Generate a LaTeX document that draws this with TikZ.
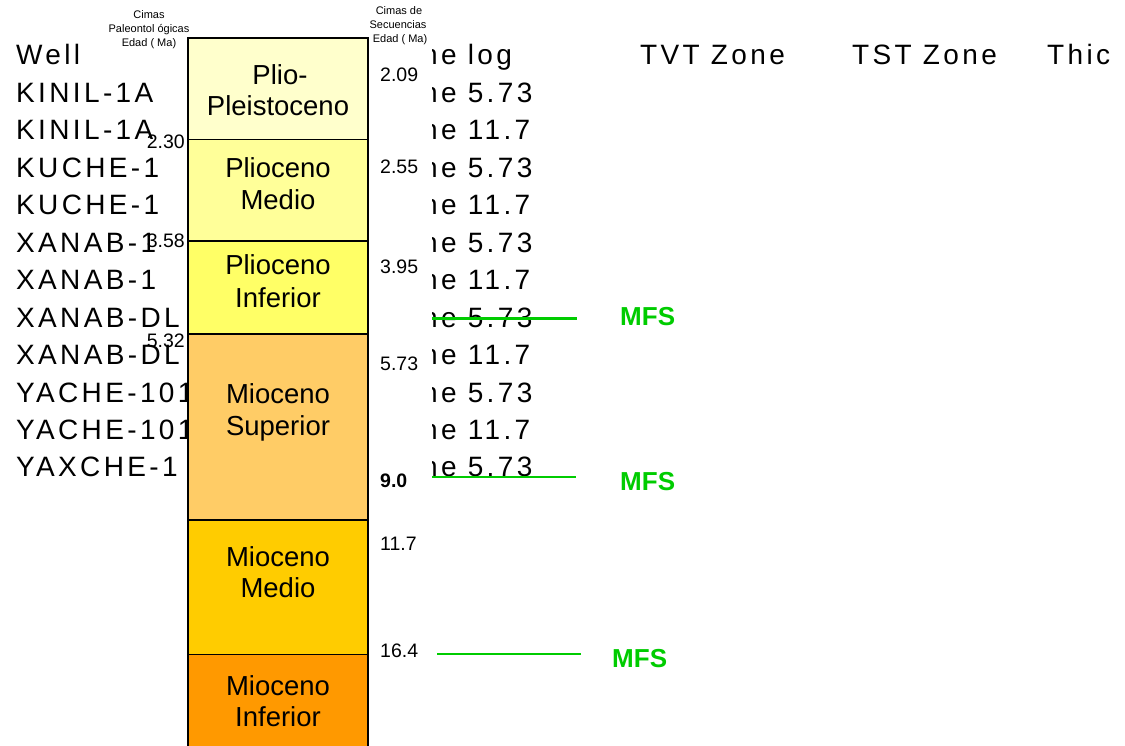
\documentclass[tikz,border=0pt]{standalone}
\usepackage{fontspec}
\setmainfont{Liberation Sans}
\newfontfamily\tabfont[LetterSpace=12]{Liberation Sans}
\definecolor{cpp}{HTML}{FFFFCC}
\definecolor{cpm}{HTML}{FFFF99}
\definecolor{cpi}{HTML}{FFFF66}
\definecolor{cms}{HTML}{FFCC66}
\definecolor{cmm}{HTML}{FFCC00}
\definecolor{cmi}{HTML}{FF9900}
\definecolor{mfsgreen}{HTML}{00CC00}
\begin{document}
\begin{tikzpicture}[x=1pt,y=-1pt,
  tab/.style={anchor=base west, inner sep=0pt, font=\tabfont\fontsize{28}{28}\selectfont},
  era/.style={anchor=base, inner sep=0pt, font=\fontsize{27.5}{27.5}\selectfont},
  agr/.style={anchor=base west, inner sep=0pt, font=\fontsize{19.5}{19.5}\selectfont},
  agl/.style={anchor=base east, inner sep=0pt, font=\fontsize{19.5}{19.5}\selectfont},
  hdr/.style={anchor=base, inner sep=0pt, font=\fontsize{11}{11}\selectfont},
  mfs/.style={anchor=base west, inner sep=0pt, text=mfsgreen, font=\bfseries\fontsize{26}{26}\selectfont},
  mfsline/.style={draw=mfsgreen, line width=2.5pt},
  unitline/.style={draw=black, line width=1.2pt},
  outline/.style={draw=black, line width=2pt}
]
\useasboundingbox (0,0) rectangle (1125,746);
\clip (0,0) rectangle (1125,746);
\fill[white] (0,0) rectangle (1125,746);
% background table text
\foreach \i/\t in {0/Well,1/KINIL-1A,2/KINIL-1A,3/KUCHE-1,4/KUCHE-1,5/XANAB-1,6/XANAB-1,7/XANAB-DL,8/XANAB-DL,9/YACHE-101,10/YACHE-101,11/YAXCHE-1}
  \node[tab] (w\i) at (16,{65+37.45*\i}) {\t};
\foreach \i/\t in {0/log,1/5.73,2/11.7,3/5.73,4/11.7,5/5.73,6/11.7,7/5.73,8/11.7,9/5.73,10/11.7,11/5.73}
  \node[tab] (z\i) at (422,{65+37.45*\i}) {ne \t};
\node[tab] (tvt) at (640,65) {TVT Zone};
\node[tab] (tst) at (852,65) {TST Zone};
\node[tab] (thi) at (1047,65) {Thic};
% white mask
\fill[white] (369,0) rectangle (432,746);
% column
\fill[cpp] (188,38) rectangle (368,139.5);
\fill[cpm] (188,139.5) rectangle (368,241);
\fill[cpi] (188,241) rectangle (368,334);
\fill[cms] (188,334) rectangle (368,520);
\fill[cmm] (188,520) rectangle (368,654.5);
\fill[cmi] (188,654.5) rectangle (368,760);
\foreach \y in {139.5,241,334,520,654.5}
  \draw[unitline] (188,\y) -- (368,\y);
\draw[outline] (188,760) -- (188,38) -- (368,38) -- (368,760);
% era labels
\node[era] (e1a) at (280,85) {Plio-};
\node[era] (e1b) at (278,116) {Pleistoceno};
\node[era] (e2a) at (278,178) {Plioceno};
\node[era] (e2b) at (278,210) {Medio};
\node[era] (e3a) at (278,275) {Plioceno};
\node[era] (e3b) at (278,307) {Inferior};
\node[era] (e4a) at (278,403) {Mioceno};
\node[era] (e4b) at (278,435) {Superior};
\node[era] (e5a) at (278,566) {Mioceno};
\node[era] (e5b) at (278,597) {Medio};
\node[era] (e6a) at (278,695) {Mioceno};
\node[era] (e6b) at (278,726) {Inferior};
% headers
\node[hdr] (hl1) at (149,19) {Cimas};
\node[hdr] (hl2) at (149,33) {Paleontol ógicas};
\node[hdr] (hl3) at (149,47) {Edad ( Ma)};
\node[hdr] (hr1) at (399,15) {Cimas de};
\node[hdr] (hr2) at (398,29) {Secuencias};
\node[hdr] (hr3) at (400,43) {Edad ( Ma)};
% left ages
\node[agl] (l1) at (185,149) {2.30};
\node[agl] (l2) at (185,248) {3.58};
\node[agl] (l3) at (185,347) {5.32};
% right ages
\node[agr] (r1) at (380,82) {2.09};
\node[agr] (r2) at (380,174) {2.55};
\node[agr] (r3) at (380,274) {3.95};
\node[agr] (r4) at (380,370) {5.73};
\node[agr,font=\bfseries\fontsize{19.5}{19.5}\selectfont] (r5) at (380,487) {9.0};
\node[agr] (r6) at (380,550) {11.7};
\node[agr] (r7) at (380,657) {16.4};
% MFS
\coordinate (m1a) at (432,318); \coordinate (m1b) at (577,318);
\coordinate (m2a) at (432,477); \coordinate (m2b) at (576,477);
\coordinate (m3a) at (437,654); \coordinate (m3b) at (581,654);
\draw[mfsline,line width=3pt] (m1a) -- (m1b);
\draw[mfsline] (m2a) -- (m2b);
\draw[mfsline] (m3a) -- (m3b);
\node[mfs] (f1) at (620,325) {MFS};
\node[mfs] (f2) at (620,490) {MFS};
\node[mfs] (f3) at (612,667) {MFS};
\end{tikzpicture}
\end{document}
